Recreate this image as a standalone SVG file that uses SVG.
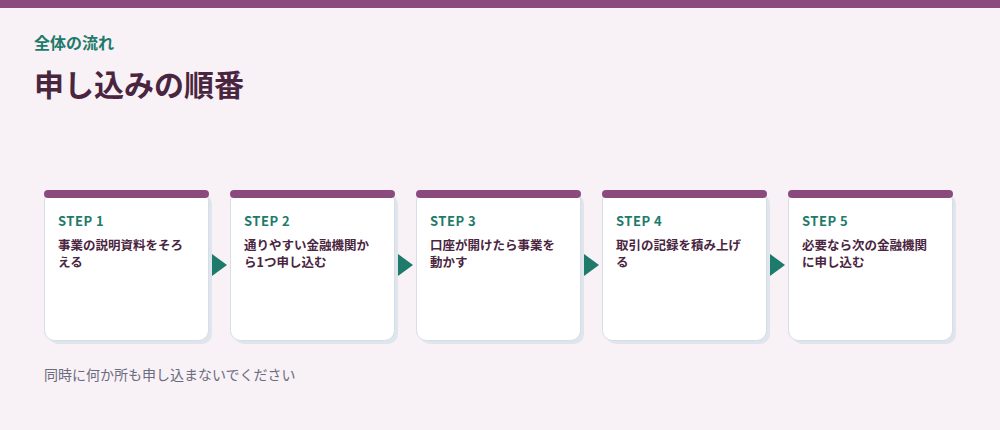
<svg xmlns="http://www.w3.org/2000/svg" width="1000" height="430" viewBox="0 0 1000 430">
<style>
.t{font-family:"Noto Sans CJK JP","Noto Sans",sans-serif}
.step{font-size:13px;font-weight:700;fill:#1e7a6a;letter-spacing:0.5px}
.body{font-size:12.5px;font-weight:700;fill:#4a2540}
.card{fill:#fff;stroke:#d6dde6;stroke-width:1}
.sh{fill:#dfe5ec}
.bar{fill:#8b4a7e}
.arr{fill:#1e7a6a}
</style>
<rect width="1000" height="430" fill="#f8f1f6"/>
<rect width="1000" height="8" fill="#8b4a7e"/>
<text class="t" x="34" y="49" font-size="16" font-weight="700" fill="#1e7a6a">全体の流れ</text>
<text class="t" x="34" y="96" font-size="30" font-weight="700" fill="#4a2540">申し込みの順番</text>
<g id="step1"><rect class="sh" x="48" y="194" width="164" height="150" rx="10"/><rect class="card" x="44.5" y="190.5" width="164" height="150" rx="10"/><rect class="bar" x="44" y="190" width="165" height="8" rx="4"/><text class="t step" x="58" y="226">STEP 1</text><text class="t body" x="58" y="250">事業の説明資料をそろ</text><text class="t body" x="58" y="267">える</text></g>
<g id="step2"><rect class="sh" x="234" y="194" width="164" height="150" rx="10"/><rect class="card" x="230.5" y="190.5" width="164" height="150" rx="10"/><rect class="bar" x="230" y="190" width="165" height="8" rx="4"/><text class="t step" x="244" y="226">STEP 2</text><text class="t body" x="244" y="250">通りやすい金融機関か</text><text class="t body" x="244" y="267">ら1つ申し込む</text></g>
<g id="step3"><rect class="sh" x="420" y="194" width="164" height="150" rx="10"/><rect class="card" x="416.5" y="190.5" width="164" height="150" rx="10"/><rect class="bar" x="416" y="190" width="165" height="8" rx="4"/><text class="t step" x="430" y="226">STEP 3</text><text class="t body" x="430" y="250">口座が開けたら事業を</text><text class="t body" x="430" y="267">動かす</text></g>
<g id="step4"><rect class="sh" x="606" y="194" width="164" height="150" rx="10"/><rect class="card" x="602.5" y="190.5" width="164" height="150" rx="10"/><rect class="bar" x="602" y="190" width="165" height="8" rx="4"/><text class="t step" x="616" y="226">STEP 4</text><text class="t body" x="616" y="250">取引の記録を積み上げ</text><text class="t body" x="616" y="267">る</text></g>
<g id="step5"><rect class="sh" x="792" y="194" width="164" height="150" rx="10"/><rect class="card" x="788.5" y="190.5" width="164" height="150" rx="10"/><rect class="bar" x="788" y="190" width="165" height="8" rx="4"/><text class="t step" x="802" y="226">STEP 5</text><text class="t body" x="802" y="250">必要なら次の金融機関</text><text class="t body" x="802" y="267">に申し込む</text></g>
<g id="connectors">
<polygon class="arr" points="212,254 227,265 212,276"/>
<polygon class="arr" points="398,254 413,265 398,276"/>
<polygon class="arr" points="584,254 599,265 584,276"/>
<polygon class="arr" points="770,254 785,265 770,276"/>
</g>
<text class="t" x="44" y="380" font-size="14" fill="#6b6b7e">同時に何か所も申し込まないでください</text>
</svg>
